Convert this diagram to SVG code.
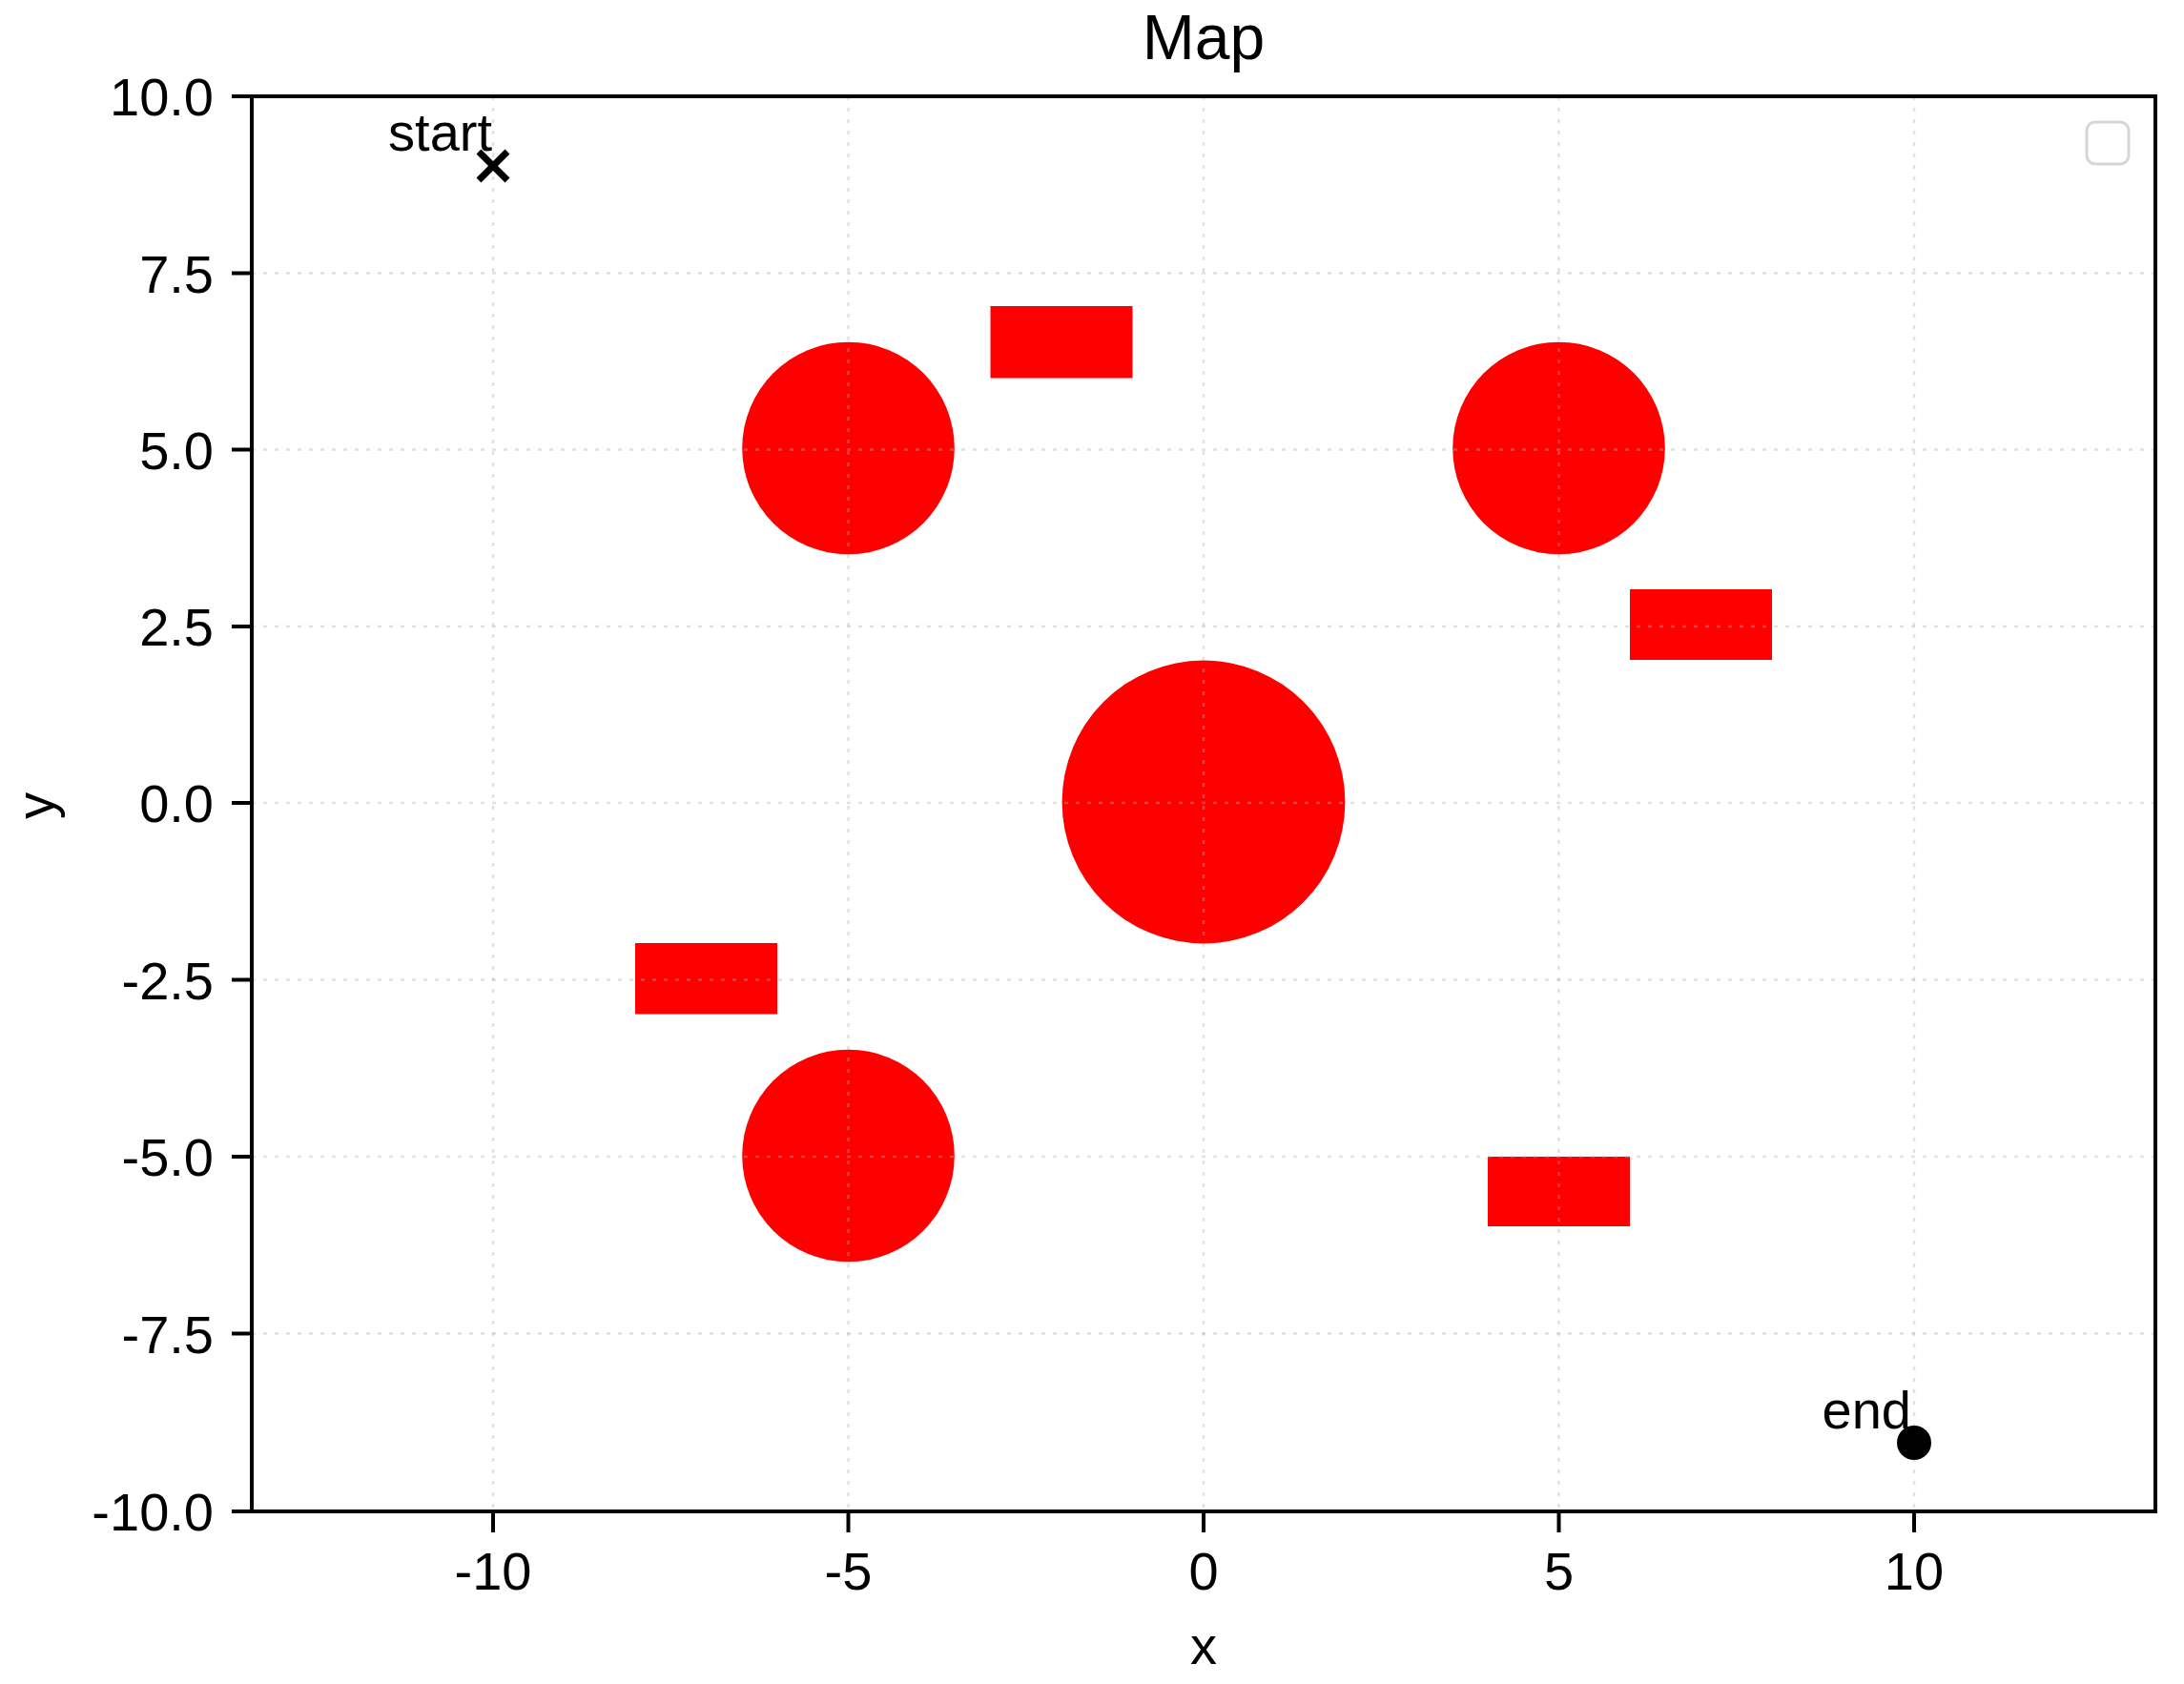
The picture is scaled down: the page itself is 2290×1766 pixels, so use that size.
<svg xmlns="http://www.w3.org/2000/svg" width="2290" height="1766" viewBox="0 0 2290 1766">
  <style>
    text { font-family: "Liberation Sans", Arial, sans-serif; fill: #000; }
    .tick { font-size: 56px; }
    .ylab { text-anchor: end; }
    .xlab { text-anchor: middle; }
    .grid line { stroke: #b0b0b0; stroke-opacity: 0.38; stroke-width: 2.5; stroke-dasharray: 4 8; }
    .obs { fill: #ff0000; stroke: none; }
    .spine { fill: none; stroke: #000; stroke-width: 4; }
    .ticks line { stroke: #000; stroke-width: 4; }
  </style>
  <rect x="0" y="0" width="2290" height="1766" fill="#ffffff"/>

  <g id="obstacles">
    <circle id="circle-center" class="obs" cx="1262" cy="841" r="148.4"/>
    <circle id="circle-nw" class="obs" cx="889.5" cy="470" r="111.3"/>
    <circle id="circle-ne" class="obs" cx="1634.5" cy="470" r="111.3"/>
    <circle id="circle-sw" class="obs" cx="889.5" cy="1212" r="111.3"/>
    <rect id="rect-1" class="obs" x="1038.5" y="321" width="149" height="75.5"/>
    <rect id="rect-2" class="obs" x="1709" y="618" width="149" height="74"/>
    <rect id="rect-3" class="obs" x="666" y="989" width="149" height="74.5"/>
    <rect id="rect-4" class="obs" x="1560" y="1213" width="149" height="73"/>
  </g>

  <g id="grid" class="grid">
    <line x1="517" y1="101" x2="517" y2="1585"/>
    <line x1="889.5" y1="101" x2="889.5" y2="1585"/>
    <line x1="1262" y1="101" x2="1262" y2="1585"/>
    <line x1="1634.5" y1="101" x2="1634.5" y2="1585"/>
    <line x1="2007" y1="101" x2="2007" y2="1585"/>
    <line x1="264" y1="286.5" x2="2260" y2="286.5"/>
    <line x1="264" y1="471.5" x2="2260" y2="471.5"/>
    <line x1="264" y1="657" x2="2260" y2="657"/>
    <line x1="264" y1="842" x2="2260" y2="842"/>
    <line x1="264" y1="1027.5" x2="2260" y2="1027.5"/>
    <line x1="264" y1="1213" x2="2260" y2="1213"/>
    <line x1="264" y1="1398.5" x2="2260" y2="1398.5"/>
  </g>

  <g id="start">
    <path d="M502 159 L532 189 M532 159 L502 189" stroke="#000" stroke-width="7" fill="none"/>
    <text x="516" y="158" class="tick" text-anchor="end">start</text>
  </g>
  <g id="end">
    <circle cx="2007" cy="1513" r="18" fill="#000"/>
    <text x="2004" y="1498" class="tick" text-anchor="end">end</text>
  </g>

  <g id="legend">
    <rect x="2188" y="128" width="44" height="44" rx="9" fill="#ffffff" fill-opacity="0.8" stroke="#d6d6d6" stroke-width="3"/>
  </g>

  <g id="axes">
    <rect class="spine" x="264" y="101" width="1996" height="1484"/>
    <g class="ticks">
      <line x1="243" y1="101" x2="264" y2="101"/>
      <line x1="243" y1="286.5" x2="264" y2="286.5"/>
      <line x1="243" y1="471.5" x2="264" y2="471.5"/>
      <line x1="243" y1="657" x2="264" y2="657"/>
      <line x1="243" y1="842" x2="264" y2="842"/>
      <line x1="243" y1="1027.5" x2="264" y2="1027.5"/>
      <line x1="243" y1="1213" x2="264" y2="1213"/>
      <line x1="243" y1="1398.5" x2="264" y2="1398.5"/>
      <line x1="243" y1="1585" x2="264" y2="1585"/>
      <line x1="517" y1="1585" x2="517" y2="1607"/>
      <line x1="889.5" y1="1585" x2="889.5" y2="1607"/>
      <line x1="1262" y1="1585" x2="1262" y2="1607"/>
      <line x1="1634.5" y1="1585" x2="1634.5" y2="1607"/>
      <line x1="2007" y1="1585" x2="2007" y2="1607"/>
    </g>
    <g id="yticklabels" class="tick ylab">
      <text x="224" y="121">10.0</text>
      <text x="224" y="306.5">7.5</text>
      <text x="224" y="491.5">5.0</text>
      <text x="224" y="677">2.5</text>
      <text x="224" y="862">0.0</text>
      <text x="224" y="1047.5">-2.5</text>
      <text x="224" y="1233">-5.0</text>
      <text x="224" y="1418.5">-7.5</text>
      <text x="224" y="1605">-10.0</text>
    </g>
    <g id="xticklabels" class="tick xlab">
      <text x="517" y="1667">-10</text>
      <text x="889.5" y="1667">-5</text>
      <text x="1262" y="1667">0</text>
      <text x="1634.5" y="1667">5</text>
      <text x="2007" y="1667">10</text>
    </g>
    <text id="xlabel" class="tick" x="1262" y="1745" text-anchor="middle">x</text>
    <text id="ylabel" class="tick" x="0" y="0" text-anchor="middle" transform="translate(56 845) rotate(-90)">y</text>
    <text id="title" x="1262" y="62" text-anchor="middle" font-size="66">Map</text>
  </g>
</svg>
